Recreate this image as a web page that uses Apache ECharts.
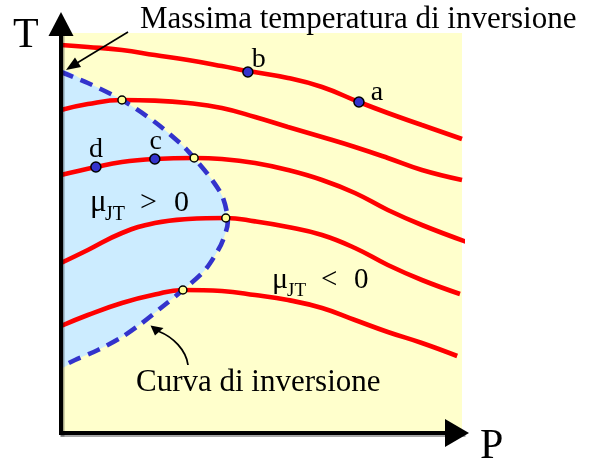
<!DOCTYPE html>
<html>
<head>
<meta charset="utf-8">
<script src="https://cdn.jsdelivr.net/npm/echarts@6/dist/echarts.min.js"></script>
<style>
  html, body { margin: 0; padding: 0; background: #ffffff; }
  #chart { width: 594px; height: 462px; }
</style>
</head>
<body>
<div id="chart"></div>
<script>
// Joule–Thomson expansion: isenthalps in the T–P plane.
// P on the horizontal axis, T on the vertical axis, both in arbitrary units (0–100).

// Isenthalpic curves, top to bottom: [P, T]
const isenthalp1 = [[0, 97], [6.7, 96.5], [15.2, 95.75], [23.4, 94.5], [31.7, 93.25], [40.1, 91.75], [46.6, 90.5], [56.6, 88.75], [65.1, 86.5], [74.3, 82.75], [81.5, 80], [90, 77], [100, 73.5]];
const isenthalp2 = [[0, 80.75], [6.7, 82.25], [15.2, 83.25], [23.4, 83.1], [31.7, 82.5], [40.1, 81.25], [48.4, 79], [56.6, 76.5], [65.1, 74], [73.3, 71.5], [81.5, 68.75], [90, 65.75], [100, 63.25]];
const isenthalp3 = [[0, 64.5], [8.7, 66.5], [15.2, 67.75], [23.4, 68.5], [33.2, 68.75], [40.1, 68.5], [48.4, 67.5], [56.6, 65.75], [65.1, 63.25], [73.3, 60], [81.5, 55.75], [90, 52], [101.2, 47.75]];
const isenthalp4 = [[0, 42.5], [6.7, 45.75], [15.2, 50], [23.4, 52.5], [31.7, 53.5], [41.1, 53.75], [48.4, 52.9], [56.6, 51.5], [65.1, 49.5], [73.3, 46.25], [81.5, 42], [90, 38.25], [99.5, 34.75]];
const isenthalp5 = [[0, 26.75], [6.7, 29.5], [15.2, 32.5], [23.4, 34.6], [30.4, 35.75], [40.1, 35.5], [48.4, 34.5], [56.6, 33.25], [65.1, 31.25], [73.3, 28.25], [81.5, 25.25], [90, 22.5], [98.8, 19.25]];
const isenthalps = [isenthalp1, isenthalp2, isenthalp3, isenthalp4, isenthalp5];

// Inversion curve, from the maximum inversion temperature down to the lower branch
const inversionCurve = [[0, 90.25], [6.7, 87.5], [15.2, 83.25], [23.4, 77.75], [30.2, 72], [33.2, 68.75], [37.7, 63.25], [40.4, 58.75], [41.6, 52.75], [40.4, 48.25], [39.2, 45.75], [35.9, 40.75], [30.4, 35.75], [25.2, 31.5], [20.2, 27.5], [15.2, 24], [9.2, 20.75], [3.5, 18.25], [0, 16.5]];

// Maxima of the isenthalps (points on the inversion curve)
const inversionPoints = [[15.2, 83.25], [33.2, 68.75], [41.1, 53.75], [30.4, 35.75]];

// Named states
const stateNames = ['a', 'b', 'c', 'd'];
const statePoints = [[74.3, 82.75], [46.6, 90.25], [23.4, 68.5], [8.7, 66.5]];

// Axis titles and annotations
const axisNameP = 'P';
const axisNameT = 'T';
const maxInversionText = 'Massima temperatura di inversione';
const inversionCurveText = 'Curva di inversione';

const SERIF = '"Liberation Serif", "Times New Roman", Times, serif';
const RED = '#ff0000';
const DASH_BLUE = '#3333cc';
const FILL_BLUE = '#ccecff';
const PAPER = '#ffffcc';

// label offsets of the named states, relative to the marker centre
const stateLabelOffset = { a: [18, -9], b: [11, -12], c: [1, -17], d: [0, -17] };

const chart = echarts.init(document.getElementById('chart'), null, { renderer: 'canvas' });

// text placed by its left edge and alphabetic baseline
function txt(str, left, baseline, size) {
  return {
    type: 'text',
    z: 100,
    silent: true,
    style: {
      text: str,
      x: left,
      y: baseline - size * 0.32,
      fill: '#000',
      fontFamily: SERIF,
      fontSize: size,
      align: 'left',
      verticalAlign: 'middle'
    }
  };
}

const series = [];

// region where mu_JT > 0
series.push({
  type: 'custom',
  coordinateSystem: 'cartesian2d',
  clip: true,
  silent: true,
  z: 2,
  data: [0],
  renderItem: function (params, api) {
    const pts = inversionCurve.map(function (p) { return api.coord(p); });
    return {
      type: 'polygon',
      shape: { points: pts, smooth: 0.3 },
      style: { fill: FILL_BLUE, stroke: null }
    };
  }
});

// isenthalps
isenthalps.forEach(function (d) {
  series.push({
    type: 'line',
    data: d,
    smooth: 0.45,
    symbol: 'none',
    clip: false,
    silent: true,
    z: 3,
    lineStyle: { color: RED, width: 4.6, cap: 'butt' }
  });
});

// dashed inversion curve
series.push({
  type: 'custom',
  coordinateSystem: 'cartesian2d',
  clip: false,
  silent: true,
  z: 4,
  data: [0],
  renderItem: function (params, api) {
    const pts = inversionCurve.map(function (p) { return api.coord(p); });
    return {
      type: 'polyline',
      shape: { points: pts, smooth: 0.3 },
      style: { fill: null, stroke: DASH_BLUE, lineWidth: 4.6, lineDash: [13, 8] }
    };
  }
});

// inversion points on the isenthalps
series.push({
  type: 'scatter',
  data: inversionPoints,
  symbol: 'circle',
  symbolSize: 8,
  silent: true,
  z: 5,
  itemStyle: { color: '#ffff99', borderColor: '#000', borderWidth: 1.5, opacity: 1 }
});

// named states a, b, c, d
series.push({
  type: 'scatter',
  data: statePoints.map(function (p, i) {
    return {
      value: p,
      name: stateNames[i],
      label: { offset: stateLabelOffset[stateNames[i]] }
    };
  }),
  symbol: 'circle',
  symbolSize: 10,
  silent: true,
  z: 6,
  itemStyle: { color: DASH_BLUE, borderColor: '#000', borderWidth: 1.5, opacity: 1 },
  label: {
    show: true,
    position: 'inside',
    formatter: '{b}',
    color: '#000',
    fontFamily: SERIF,
    fontSize: 28
  }
});

const option = {
  animation: false,
  backgroundColor: '#ffffff',
  grid: {
    left: 61, top: 33, right: 132, bottom: 29,
    show: true, backgroundColor: PAPER, borderWidth: 0
  },
  xAxis: {
    type: 'value', min: 0, max: 100, z: 10,
    axisLine: {
      show: true, onZero: false,
      symbol: ['none', 'triangle'], symbolSize: [28, 24], symbolOffset: [0, -5],
      lineStyle: { color: '#000', width: 4, cap: 'square',
        shadowColor: 'rgba(0,0,0,0.35)', shadowOffsetX: 1.5, shadowOffsetY: 2 }
    },
    axisTick: { show: false }, axisLabel: { show: false }, splitLine: { show: false }
  },
  yAxis: {
    type: 'value', min: 0, max: 100, z: 10,
    axisLine: {
      show: true, onZero: false,
      symbol: ['none', 'triangle'], symbolSize: [25, 24], symbolOffset: [0, 9],
      lineStyle: { color: '#000', width: 4, cap: 'square',
        shadowColor: 'rgba(0,0,0,0.35)', shadowOffsetX: 1.5, shadowOffsetY: 1.5 }
    },
    axisTick: { show: false }, axisLabel: { show: false }, splitLine: { show: false }
  },
  series: series,
  graphic: [
    txt(axisNameT, 13, 49, 42),
    txt(axisNameP, 480, 460, 42),
    txt(maxInversionText, 140, 30, 31),
    txt(inversionCurveText, 136, 393, 31),
    // mu_JT > 0
    txt('\u03bc', 90, 213, 31),
    txt('JT', 105, 221, 20),
    txt('>', 140, 213, 30),
    txt('0', 174, 213, 30),
    // mu_JT < 0
    txt('\u03bc', 272, 290, 30),
    txt('JT', 287, 297, 19),
    txt('<', 321, 290, 29),
    txt('0', 354, 290, 29),
    // arrow to the maximum inversion temperature
    {
      type: 'polyline', z: 100, silent: true,
      shape: { points: [[128, 32], [77, 63]] },
      style: { stroke: '#000', lineWidth: 1.6, fill: null }
    },
    {
      type: 'polygon', z: 100, silent: true,
      shape: { points: [[66, 70], [81, 67], [75, 57.6]] },
      style: { fill: '#000' }
    },
    // curved arrow to the inversion curve
    {
      type: 'bezierCurve', z: 100, silent: true,
      shape: { x1: 188, y1: 365, cpx1: 186, cpy1: 350, cpx2: 173, cpy2: 337, x2: 159, y2: 331.5 },
      style: { stroke: '#000', lineWidth: 1.8, fill: null }
    },
    {
      type: 'polygon', z: 100, silent: true,
      shape: { points: [[150.5, 325.5], [155, 335.5], [163.5, 328]] },
      style: { fill: '#000' }
    }
  ]
};

chart.setOption(option);
</script>
</body>
</html>
